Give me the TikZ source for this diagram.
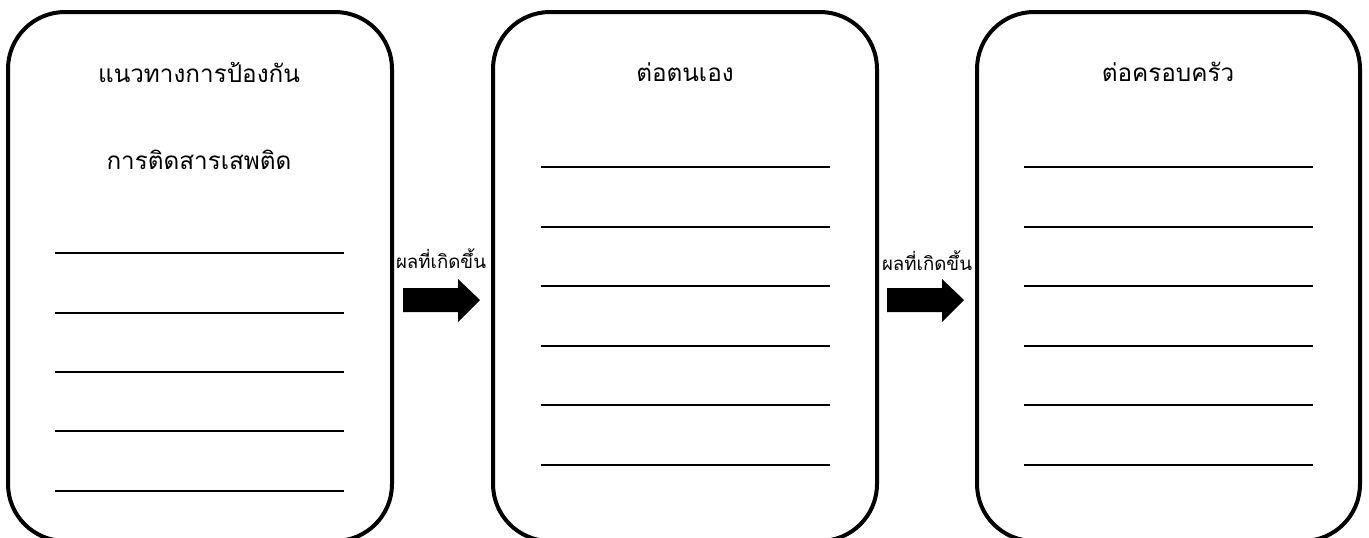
\documentclass[tikz,border=0pt]{standalone}
\usepackage{fontspec}
\newfontfamily\thaifont[Script=Thai]{Loma}
\begin{document}
\begin{tikzpicture}[x=0.75pt,y=-0.75pt,
  panel/.style={draw=black,line width=3pt,rounded corners=42.75pt,fill=white},
  rule/.style={draw=black,line width=1.1pt},
  title/.style={font=\thaifont\fontsize{18.2}{22}\selectfont,inner sep=0pt,anchor=center},
  lab/.style={font=\thaifont\fontsize{14}{16}\selectfont,inner sep=0pt,anchor=center},
  blockarrow/.style={fill=black}]
\useasboundingbox (0,0) rectangle (1369,537);
\clip (0,0) rectangle (1369,537);
% panels
\draw[panel] (8,12) rectangle (392,541);
\draw[panel] (493,12) rectangle (877,541);
\draw[panel] (977,12) rectangle (1360,541);
% titles
\node[title] (t1) at (199,72) {แนวทางการป้องกัน};
\node[title] (t2) at (199,160) {การติดสารเสพติด};
\node[title] (t3) at (685,72) {ต่อตนเอง};
\node[title] (t4) at (1168,72) {ต่อครอบครัว};
% rules left
\foreach \yy in {253,313,372,431,491}{\draw[rule] (55,\yy) -- (344,\yy);}
% rules middle
\foreach \yy in {167,227,286,346,405,465}{\draw[rule] (541,\yy) -- (830,\yy);}
% rules right
\foreach \yy in {167,227,286,346,405,465}{\draw[rule] (1024,\yy) -- (1313,\yy);}
% labels
\node[lab] (l1) at (441,259) {ผลที่เกิดขึ้น};
\node[lab] (l2) at (927,261) {ผลที่เกิดขึ้น};
% block arrows
\coordinate (a1) at (403,300);
\coordinate (a2) at (887,300);
\foreach \c in {a1,a2}{
\fill[blockarrow] ([shift={(0,-12)}]\c) -- ++(55,0) -- ++(0,-9) -- ++(22,21) -- ++(-22,22) -- ++(0,-10) -- ++(-55,0) -- cycle;}
\end{tikzpicture}
\end{document}
